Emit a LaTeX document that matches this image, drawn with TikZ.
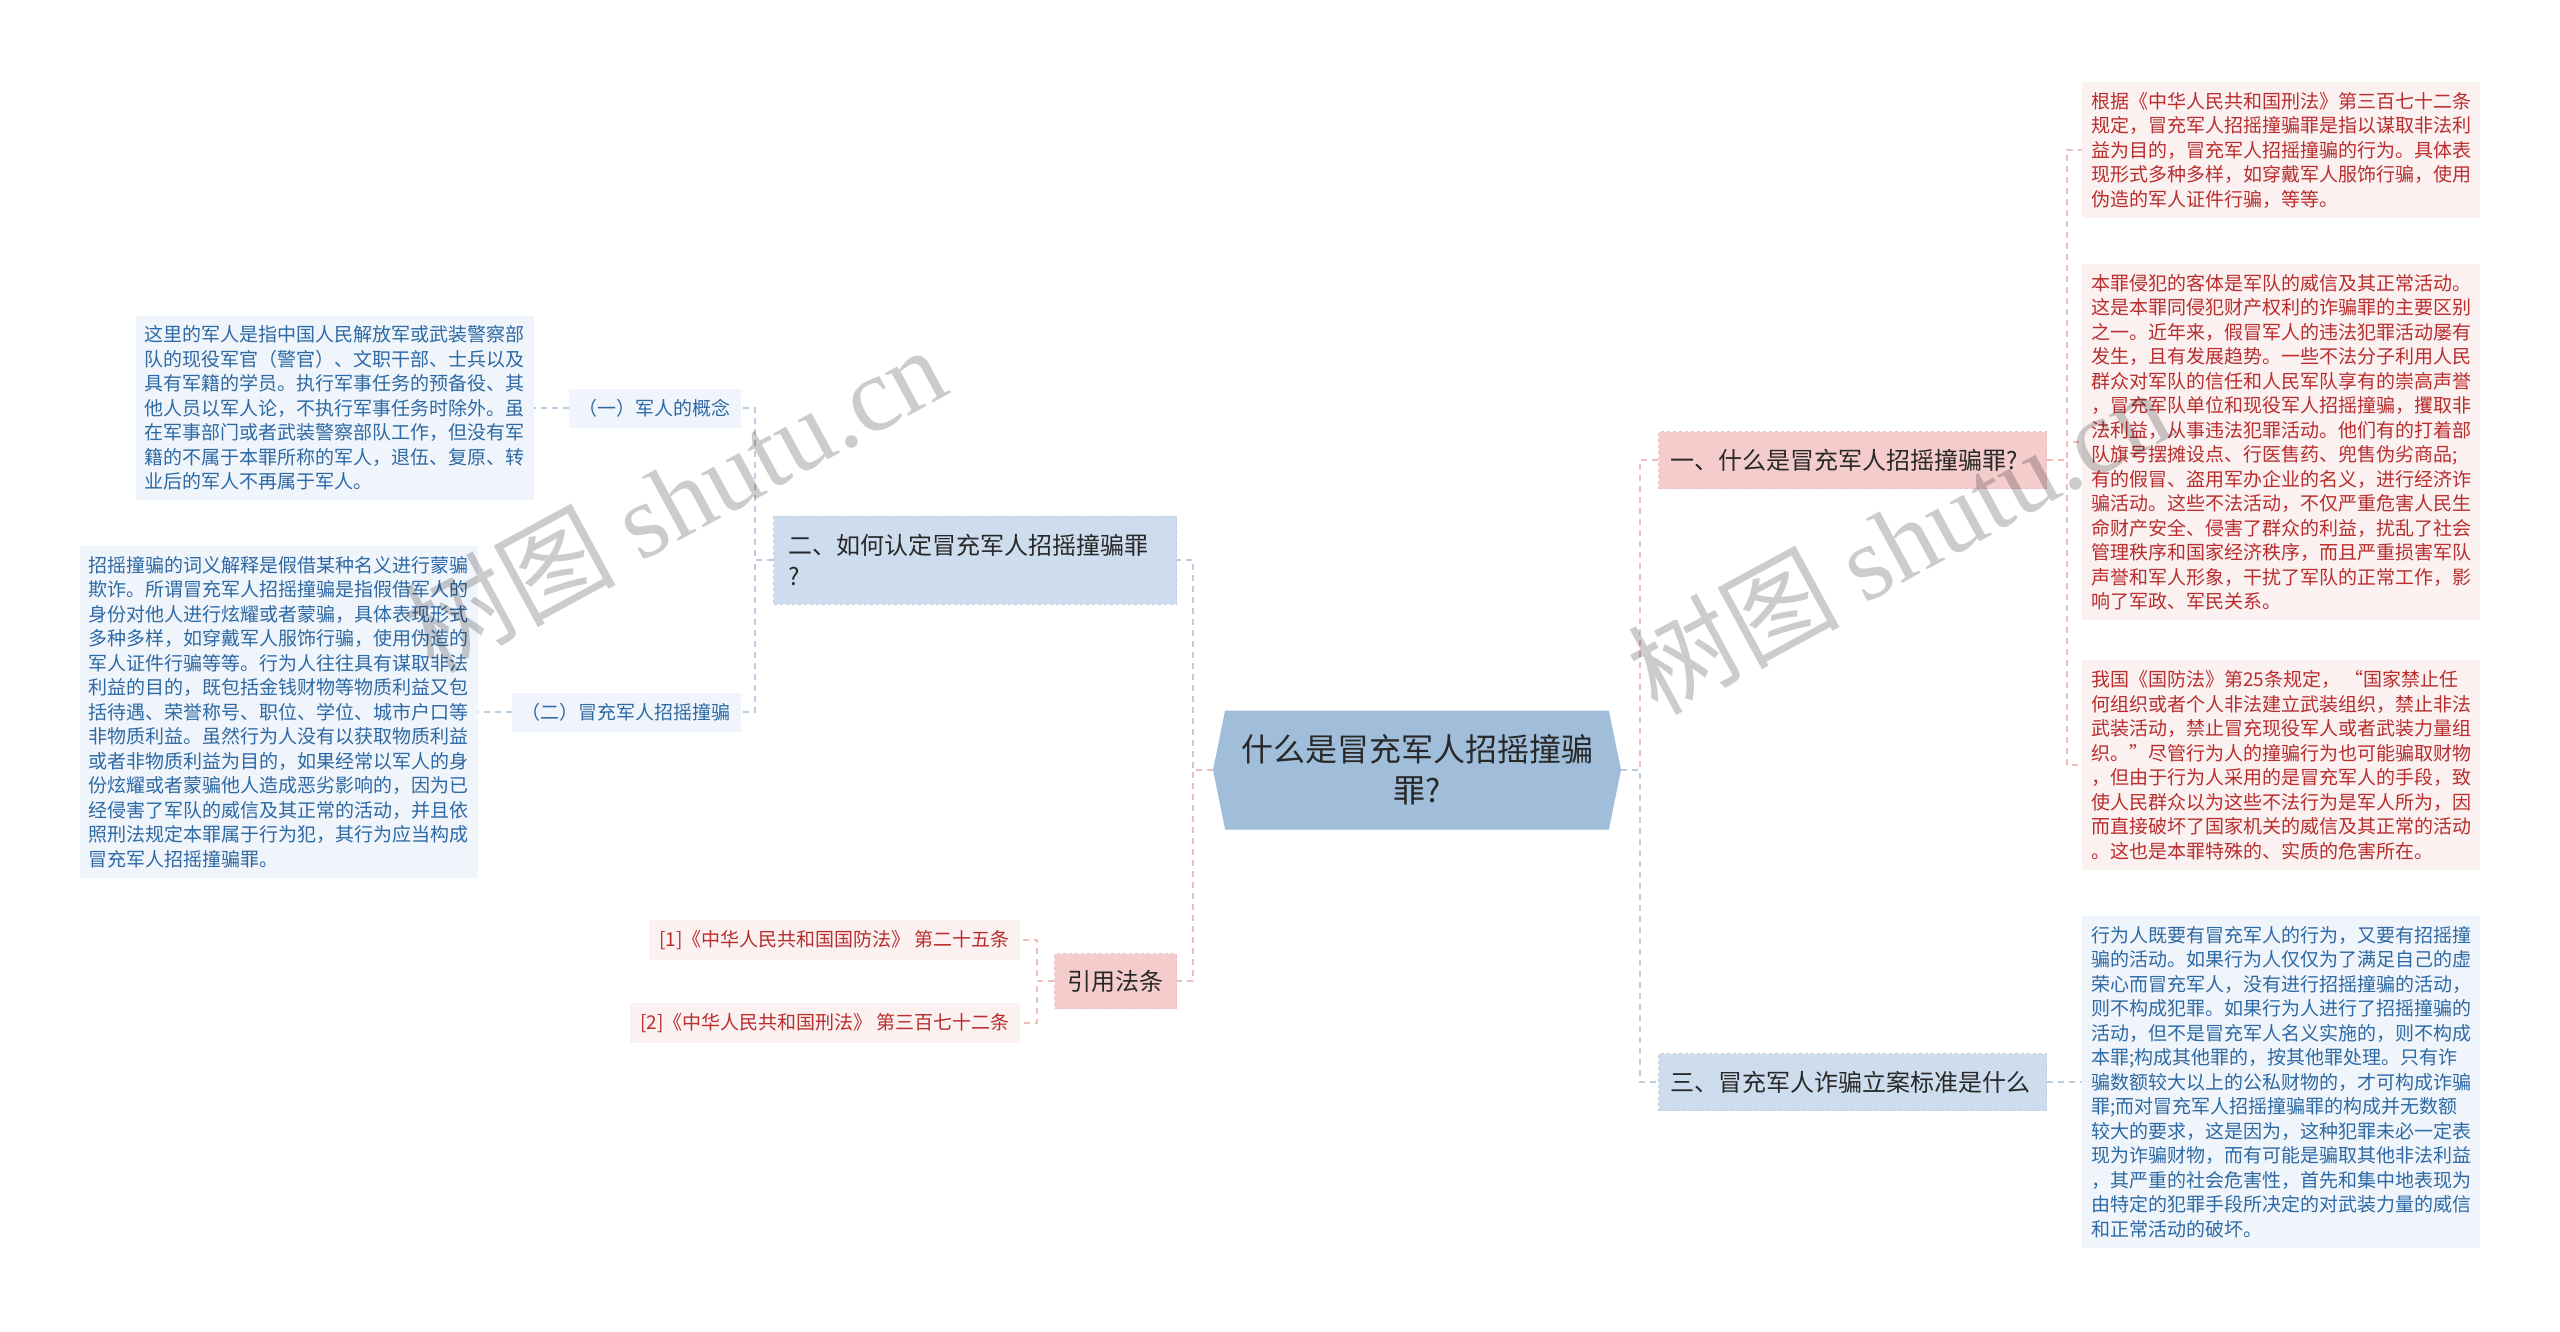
\documentclass[tikz,border=0pt]{standalone}
\usepackage{fontspec}
\setmainfont{Noto Sans CJK SC}
\newfontfamily\markfont{Liberation Serif}
\usetikzlibrary{shapes.geometric,shapes.symbols}

\definecolor{hubblue}{RGB}{160,190,218}
\definecolor{branchpink}{RGB}{244,204,204}
\definecolor{branchblue}{RGB}{205,221,237}
\definecolor{edgepink}{RGB}{236,190,190}
\definecolor{edgeblue}{RGB}{188,206,226}
\definecolor{leafpink}{RGB}{252,241,241}
\definecolor{leafbg}{RGB}{240,245,251}
\definecolor{leafred}{RGB}{185,45,45}
\definecolor{leafblue}{RGB}{45,105,165}
\definecolor{textdark}{RGB}{40,40,40}

\begin{document}
\begin{tikzpicture}[x=1pt,y=-1pt,
      hub/.style = {signal, signal to=east and west, signal pointer angle=157,
        fill=hubblue, minimum width=408pt, minimum height=119pt, inner sep=0pt,
        align=center, text=textdark, font=\fontsize{32}{41}\selectfont},
      branch/.style = {draw, dashed, line width=1pt, minimum height=57pt,
        inner xsep=12pt, inner ysep=0pt, align=left, text=textdark,
        font=\fontsize{24}{31}\selectfont},
      sub/.style = {fill=leafbg, minimum height=39pt, inner xsep=10pt,
        inner ysep=0pt, text=leafblue, font=\fontsize{19}{24}\selectfont},
      cite/.style = {fill=leafpink, minimum height=40pt, inner xsep=10pt,
        inner ysep=0pt, text=leafred, font=\fontsize{19}{24}\selectfont},
      leaf/.style = {minimum width=398pt, inner xsep=9pt, inner ysep=10pt,
        align=left, font=\fontsize{19}{24.5}\selectfont},
      redleaf/.style = {leaf, fill=leafpink, text=leafred},
      blueleaf/.style = {leaf, fill=leafbg, text=leafblue},
      pinkline/.style = {draw=edgepink, line width=2.5pt, dash pattern=on 6pt off 5pt},
      blueline/.style = {draw=edgeblue, line width=2.5pt, dash pattern=on 6pt off 5pt},
      wmark/.style = {rotate=28.5, text=black, text opacity=0.2,
        font=\fontsize{106}{106}\selectfont}]

  \useasboundingbox (0,0) rectangle (2560,1331);

  % Hub
  \node[hub] (hub) at (1417,770) {什么是冒充军人招摇撞骗\\罪?};

  % Main branches
  \node[branch, fill=branchpink, draw=edgepink, text width=364pt, anchor=west]
    (one) at (1658,460) {一、什么是冒充军人招摇撞骗罪?};
  \node[branch, fill=branchblue, draw=edgeblue, text width=364pt, anchor=west]
    (three) at (1658,1082) {三、冒充军人诈骗立案标准是什么};
  \node[branch, fill=branchblue, draw=edgeblue, text width=373pt, inner xsep=15pt,
    minimum height=88pt, anchor=east] (two) at (1177,560)
    {二、如何认定冒充军人招摇撞骗罪\\?};
  \node[branch, fill=branchpink, draw=edgepink, inner xsep=13pt, minimum height=55pt,
    anchor=east] (law) at (1177,981) {引用法条};

  % Sub topics of two
  \node[sub, minimum width=171pt, anchor=east] (soldier) at (741,408) {（一）军人的概念};
  \node[sub, minimum width=225pt, anchor=east] (fraud) at (741,712) {（二）冒充军人招摇撞骗};

  % Cited laws
  \node[cite, anchor=east] (law1) at (1020,940) {[1]《中华人民共和国国防法》 第二十五条};
  \node[cite, anchor=east] (law2) at (1020,1023) {[2]《中华人民共和国刑法》 第三百七十二条};

  % Leaves, left
  \node[blueleaf, anchor=east] (soldiertext) at (534,408) {这里的军人是指中国人民解放军或武装警察部\\
队的现役军官（警官）、文职干部、士兵以及\\
具有军籍的学员。执行军事任务的预备役、其\\
他人员以军人论，不执行军事任务时除外。虽\\
在军事部门或者武装警察部队工作，但没有军\\
籍的不属于本罪所称的军人，退伍、复原、转\\
业后的军人不再属于军人。};
  \node[blueleaf, anchor=east] (fraudtext) at (478,712) {招摇撞骗的词义解释是假借某种名义进行蒙骗\\
欺诈。所谓冒充军人招摇撞骗是指假借军人的\\
身份对他人进行炫耀或者蒙骗，具体表现形式\\
多种多样，如穿戴军人服饰行骗，使用伪造的\\
军人证件行骗等等。行为人往往具有谋取非法\\
利益的目的，既包括金钱财物等物质利益又包\\
括待遇、荣誉称号、职位、学位、城市户口等\\
非物质利益。虽然行为人没有以获取物质利益\\
或者非物质利益为目的，如果经常以军人的身\\
份炫耀或者蒙骗他人造成恶劣影响的，因为已\\
经侵害了军队的威信及其正常的活动，并且依\\
照刑法规定本罪属于行为犯，其行为应当构成\\
冒充军人招摇撞骗罪。};

  % Leaves, right
  \node[redleaf, anchor=west] (def) at (2082,150) {根据《中华人民共和国刑法》第三百七十二条\\
规定，冒充军人招摇撞骗罪是指以谋取非法利\\
益为目的，冒充军人招摇撞骗的行为。具体表\\
现形式多种多样，如穿戴军人服饰行骗，使用\\
伪造的军人证件行骗，等等。};
  \node[redleaf, anchor=west] (object) at (2082,442) {本罪侵犯的客体是军队的威信及其正常活动。\\
这是本罪同侵犯财产权利的诈骗罪的主要区别\\
之一。近年来，假冒军人的违法犯罪活动屡有\\
发生，且有发展趋势。一些不法分子利用人民\\
群众对军队的信任和人民军队享有的崇高声誉\\
，冒充军队单位和现役军人招摇撞骗，攫取非\\
法利益，从事违法犯罪活动。他们有的打着部\\
队旗号摆摊设点、行医售药、兜售伪劣商品;\\
有的假冒、盗用军办企业的名义，进行经济诈\\
骗活动。这些不法活动，不仅严重危害人民生\\
命财产安全、侵害了群众的利益，扰乱了社会\\
管理秩序和国家经济秩序，而且严重损害军队\\
声誉和军人形象，干扰了军队的正常工作，影\\
响了军政、军民关系。};
  \node[redleaf, anchor=west] (defence) at (2082,765) {我国《国防法》第25条规定，  “国家禁止任\\
何组织或者个人非法建立武装组织，禁止非法\\
武装活动，禁止冒充现役军人或者武装力量组\\
织。”尽管行为人的撞骗行为也可能骗取财物\\
，但由于行为人采用的是冒充军人的手段，致\\
使人民群众以为这些不法行为是军人所为，因\\
而直接破坏了国家机关的威信及其正常的活动\\
。这也是本罪特殊的、实质的危害所在。};
  \node[blueleaf, anchor=west] (standard) at (2082,1082) {行为人既要有冒充军人的行为，又要有招摇撞\\
骗的活动。如果行为人仅仅为了满足自己的虚\\
荣心而冒充军人，没有进行招摇撞骗的活动，\\
则不构成犯罪。如果行为人进行了招摇撞骗的\\
活动，但不是冒充军人名义实施的，则不构成\\
本罪;构成其他罪的，按其他罪处理。只有诈\\
骗数额较大以上的公私财物的，才可构成诈骗\\
罪;而对冒充军人招摇撞骗罪的构成并无数额\\
较大的要求，这是因为，这种犯罪未必一定表\\
现为诈骗财物，而有可能是骗取其他非法利益\\
，其严重的社会危害性，首先和集中地表现为\\
由特定的犯罪手段所决定的对武装力量的威信\\
和正常活动的破坏。};

  % Connectors
  \draw[pinkline] (hub.east) -- ++(19,0) |- (one.west);
  \draw[blueline] (hub.east) -- ++(19,0) |- (three.west);
  \draw[blueline] (hub.west) -- ++(-20,0) |- (two.east);
  \draw[pinkline] (hub.west) -- ++(-20,0) |- (law.east);
  \draw[blueline] (two.west) -- ++(-18,0) |- (soldier.east);
  \draw[blueline] (two.west) -- ++(-18,0) |- (fraud.east);
  \draw[blueline] (soldier.west) -- (soldiertext.east);
  \draw[blueline] (fraud.west) -- (fraudtext.east);
  \draw[pinkline] (law.west) -- ++(-17,0) |- (law1.east);
  \draw[pinkline] (law.west) -- ++(-17,0) |- (law2.east);
  \draw[pinkline] (one.east) -- ++(20,0) |- (def.west);
  \draw[pinkline] (one.east) -- ++(20,0) |- (object.west);
  \draw[pinkline] (one.east) -- ++(20,0) |- (defence.west);
  \draw[blueline] (three.east) -- (standard.west);

  % Watermarks
  \node[wmark] (mark1) at (674,498) {树图 {\markfont shutu.cn}};
  \node[wmark] (mark2) at (1898,540) {树图 {\markfont shutu.cn}};

\end{tikzpicture}
\end{document}
